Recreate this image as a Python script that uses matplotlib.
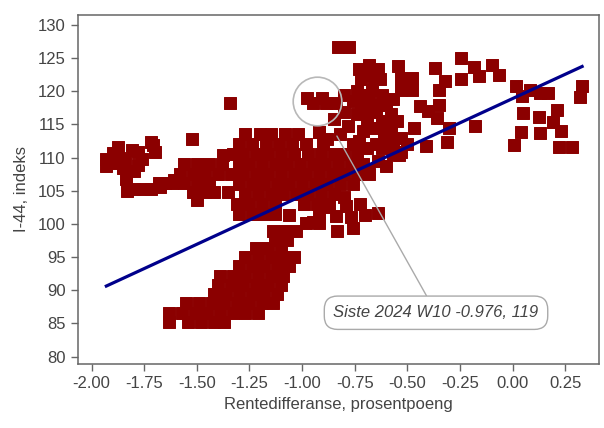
#!/usr/bin/env python
"""Spredningsplott: rentedifferanse mot I-44 med regresjonslinje."""
import matplotlib
matplotlib.use('Agg')
import matplotlib.pyplot as plt
import matplotlib.transforms as mtransforms
import numpy as np

plt.rcParams['font.family'] = ['Liberation Sans', 'DejaVu Sans']

# Ukepunkter lest av bildet, (rentedifferanse, I-44), gruppert etter klynge.
klynge_venstre = [
    (-1.93, 108.8), (-1.93, 109.8), (-1.90, 110.7), (-1.90, 109.2),
    (-1.875, 111.6), (-1.87, 110.0), (-1.85, 108.5), (-1.84, 109.7),
    (-1.835, 106.8), (-1.83, 105.0), (-1.80, 108.0), (-1.80, 105.3),
    (-1.78, 110.9), (-1.78, 108.9), (-1.76, 109.8), (-1.755, 105.2),
    (-1.72, 105.3), (-1.71, 111.9), (-1.72, 112.3), (-1.70, 110.8),
    (-1.675, 105.5), (-1.675, 106.1), (-1.65, 106.2), (-1.81, 111.2),
]
klynge_midt_venstre = [
    (-1.56, 109.0), (-1.50, 109.0), (-1.44, 109.0), (-1.38, 109.0),
    (-1.58, 107.5), (-1.52, 107.5), (-1.46, 107.5), (-1.40, 107.5),
    (-1.34, 107.5), (-1.68, 106.2), (-1.62, 106.2), (-1.56, 106.2),
    (-1.50, 106.2), (-1.44, 106.2), (-1.52, 104.8), (-1.46, 104.8),
    (-1.42, 104.8), (-1.35, 104.8), (-1.50, 103.6), (-1.523, 112.8),
    (-1.375, 110.4), (-1.342, 118.3), (-1.61, 106.6),
]
klynge_hoved = [
    (-1.27, 113.5), (-1.20, 113.5), (-1.15, 113.5), (-1.08, 113.5),
    (-1.02, 113.5), (-1.30, 112.0), (-1.24, 112.0), (-1.17, 112.0),
    (-1.11, 112.0), (-1.05, 112.0), (-0.98, 112.0), (-0.90, 112.0),
    (-1.33, 110.5), (-1.28, 110.5), (-1.22, 110.5), (-1.16, 110.5),
    (-1.10, 110.5), (-1.04, 110.5), (-0.97, 110.5), (-0.91, 110.5),
    (-0.85, 110.5), (-0.80, 110.5), (-1.30, 109.0), (-1.25, 109.0),
    (-1.19, 109.0), (-1.13, 109.0), (-1.07, 109.0), (-1.01, 109.0),
    (-0.95, 109.0), (-0.89, 109.0), (-0.83, 109.0), (-0.77, 109.0),
    (-0.71, 109.0), (-1.28, 107.5), (-1.22, 107.5), (-1.16, 107.5),
    (-1.10, 107.5), (-1.04, 107.5), (-0.98, 107.5), (-0.92, 107.5),
    (-0.86, 107.5), (-0.80, 107.5), (-0.74, 107.5), (-0.68, 107.5),
    (-1.30, 106.0), (-1.24, 106.0), (-1.18, 106.0), (-1.12, 106.0),
    (-1.06, 106.0), (-1.00, 106.0), (-0.94, 106.0), (-0.88, 106.0),
    (-0.82, 106.0), (-0.76, 106.0), (-1.27, 104.5), (-1.21, 104.5),
    (-1.15, 104.5), (-1.09, 104.5), (-1.03, 104.5), (-0.97, 104.5),
    (-0.91, 104.5), (-0.85, 104.5), (-1.31, 103.0), (-1.25, 103.0),
    (-1.19, 103.0), (-1.13, 103.0), (-0.99, 103.0), (-0.93, 103.0),
    (-0.87, 103.0), (-1.30, 101.5), (-1.24, 101.5), (-1.18, 101.5),
    (-1.13, 101.5), (-0.98, 100.2), (-0.92, 100.2),
    (-0.92, 113.9), (-0.85, 115.8), (-0.88, 112.8), (-0.82, 113.5),
    (-0.76, 112.0), (-0.74, 110.8),
]
klynge_langs_linjen = [
    (-0.64, 109.5), (-0.60, 108.8), (-0.57, 110.5), (-0.53, 110.8),
    (-0.62, 111.5), (-0.685, 108.0), (-0.73, 112.5), (-0.69, 111.5),
    (-0.65, 112.0), (-0.61, 113.0), (-0.57, 112.3), (-0.53, 113.0),
    (-0.50, 112.0), (-0.71, 114.0), (-0.66, 114.5), (-0.62, 114.8),
    (-0.58, 115.3), (-0.54, 110.4),
]
klynge_oppe = [
    (-0.74, 116.5), (-0.72, 118.2), (-0.74, 120.0), (-0.72, 121.8),
    (-0.73, 123.3), (-0.68, 124.0), (-0.64, 123.4), (-0.63, 121.8),
    (-0.67, 120.2), (-0.68, 118.4), (-0.65, 116.8), (-0.62, 115.5),
    (-0.69, 115.2), (-0.78, 114.8), (-0.80, 116.8), (-0.80, 119.5),
    (-0.84, 118.3), (-0.60, 118.0), (-0.58, 116.5), (-0.62, 119.5),
    (-0.70, 122.5), (-0.66, 122.0), (-0.70, 119.5), (-0.64, 118.0),
    (-0.70, 117.0), (-0.76, 118.5), (-0.57, 118.8),
    (-0.545, 123.8), (-0.53, 122.0), (-0.48, 122.0), (-0.53, 120.2),
    (-0.48, 120.2), (-0.37, 123.5), (-0.32, 121.5), (-0.35, 120.2),
    (-0.35, 118.0), (-0.40, 117.0), (-0.36, 116.0), (-0.30, 114.5),
    (-0.31, 112.3), (-0.41, 111.8), (-0.47, 114.5), (-0.44, 117.8),
    (-0.58, 113.8), (-0.55, 115.5), (-0.83, 126.7), (-0.775, 126.7),
    (-0.95, 118.2), (-0.905, 119.0), (-0.886, 118.3), (-0.92, 113.9),
]
klynge_under = [
    (-0.95, 100.3), (-0.92, 101.6), (-0.88, 102.5), (-0.84, 101.2),
    (-0.835, 99.0), (-0.79, 102.7), (-0.77, 101.0), (-0.76, 99.4),
    (-0.725, 103.0), (-0.70, 101.4), (-0.64, 101.7), (-0.80, 104.0),
]
klynge_lav = [
    (-1.06, 101.4), (-1.14, 99.0), (-1.08, 99.0), (-1.03, 99.0),
    (-1.13, 97.6), (-1.07, 97.6), (-1.22, 96.3), (-1.16, 96.3),
    (-1.10, 96.3), (-1.27, 95.0), (-1.21, 95.0), (-1.15, 95.0),
    (-1.09, 95.0), (-1.04, 95.0), (-1.30, 93.6), (-1.24, 93.6),
    (-1.18, 93.6), (-1.12, 93.6), (-1.06, 93.6), (-1.39, 92.2),
    (-1.33, 92.2), (-1.27, 92.2), (-1.21, 92.2), (-1.15, 92.2),
    (-1.09, 92.2), (-1.40, 90.8), (-1.34, 90.8), (-1.28, 90.8),
    (-1.22, 90.8), (-1.16, 90.8), (-1.10, 90.8), (-1.42, 89.4),
    (-1.36, 89.4), (-1.30, 89.4), (-1.24, 89.4), (-1.18, 89.4),
    (-1.12, 89.4), (-1.55, 88.0), (-1.49, 88.0), (-1.43, 88.0),
    (-1.37, 88.0), (-1.31, 88.0), (-1.25, 88.0), (-1.19, 88.0),
    (-1.14, 88.0), (-1.63, 86.6), (-1.57, 86.6), (-1.51, 86.6),
    (-1.45, 86.6), (-1.39, 86.6), (-1.33, 86.6), (-1.27, 86.6),
    (-1.21, 86.6), (-1.63, 85.2), (-1.54, 85.2), (-1.48, 85.2),
    (-1.42, 85.2), (-1.37, 85.2),
]
klynge_hoyre = [
    (-0.244, 125.0), (-0.183, 123.7), (-0.158, 122.3), (-0.244, 121.9),
    (-0.097, 124.0), (-0.063, 122.5), (0.017, 120.8), (0.046, 119.3),
    (0.083, 120.2), (0.13, 119.8), (0.17, 119.8), (0.05, 116.7),
    (0.126, 116.1), (0.21, 117.2), (0.19, 115.4), (0.23, 114.0),
    (0.04, 113.9), (0.13, 113.7), (0.007, 111.9), (0.22, 111.6),
    (0.28, 111.6), (-0.178, 114.8), (0.33, 120.8), (0.32, 119.1),
]

# Siste observasjon
siste_x, siste_y = -0.976, 119.0
siste_tekst = 'Siste 2024 W10 -0.976, 119'

# Regresjonslinje lest av bildet: I-44 = konstant + stigning * rentediff
konstant = 118.9
stigning = 14.65

x_ticks = [-2.00, -1.75, -1.50, -1.25, -1.00, -0.75, -0.50, -0.25, 0.00, 0.25]
y_ticks = [80, 85, 90, 95, 100, 105, 110, 115, 120, 125, 130]

punkter = np.array(klynge_venstre + klynge_midt_venstre + klynge_hoved
                   + klynge_langs_linjen + klynge_oppe + klynge_under
                   + klynge_lav + klynge_hoyre + [(siste_x, siste_y)])
rente = punkter[:, 0]
i44 = punkter[:, 1]

fig = plt.figure(figsize=(6.04, 4.28), dpi=100)
ax = fig.add_axes([0.129, 0.150, 0.863, 0.815])

ax.scatter(rente, i44, marker='s', s=76, color='#8b0000',
           edgecolors='#8b0000', linewidths=0.7, antialiased=False,
           zorder=2)

x_linje = np.array([rente.min(), rente.max()])
ax.plot(x_linje, konstant + stigning * x_linje, color='#00008b', lw=2.3,
        zorder=3)

# Sirkel rundt siste punkt, litt forskjøvet slik som i originalen
sirkel_trans = mtransforms.offset_copy(ax.transData, fig=fig, x=7.2, y=-2.2,
                                       units='points')
ax.plot([siste_x], [siste_y], 'o', ms=35, mfc='none', mec='#b8b8b8',
        mew=1.2, transform=sirkel_trans, zorder=4)
ax.annotate(siste_tekst, xy=(siste_x, siste_y), xycoords=sirkel_trans,
            xytext=(-0.364, 86.6), textcoords='data',
            ha='center', va='center', fontsize=12, style='italic',
            color='#444444',
            bbox=dict(boxstyle='round,pad=0.55,rounding_size=0.8',
                      fc='white', ec='#aaaaaa', lw=1.0),
            arrowprops=dict(arrowstyle='-', color='#aaaaaa', lw=1.0,
                            shrinkA=0, shrinkB=29),
            zorder=5)

ax.set_xlim(-2.065, 0.411)
ax.set_ylim(78.9, 131.5)
ax.set_xticks(x_ticks)
ax.set_xticklabels(['%.2f' % v for v in x_ticks])
ax.set_yticks(y_ticks)

for side in ax.spines.values():
    side.set_color('#666666')
    side.set_linewidth(1.1)
ax.tick_params(direction='out', length=5, width=1.0, color='#666666',
               labelsize=12, labelcolor='#444444', pad=4)

ax.set_xlabel('Rentedifferanse, prosentpoeng', fontsize=12, color='#444444',
              labelpad=4)
ax.set_ylabel('I-44, indeks', fontsize=12, color='#444444', labelpad=6)

plt.savefig('out.png', dpi=100)
